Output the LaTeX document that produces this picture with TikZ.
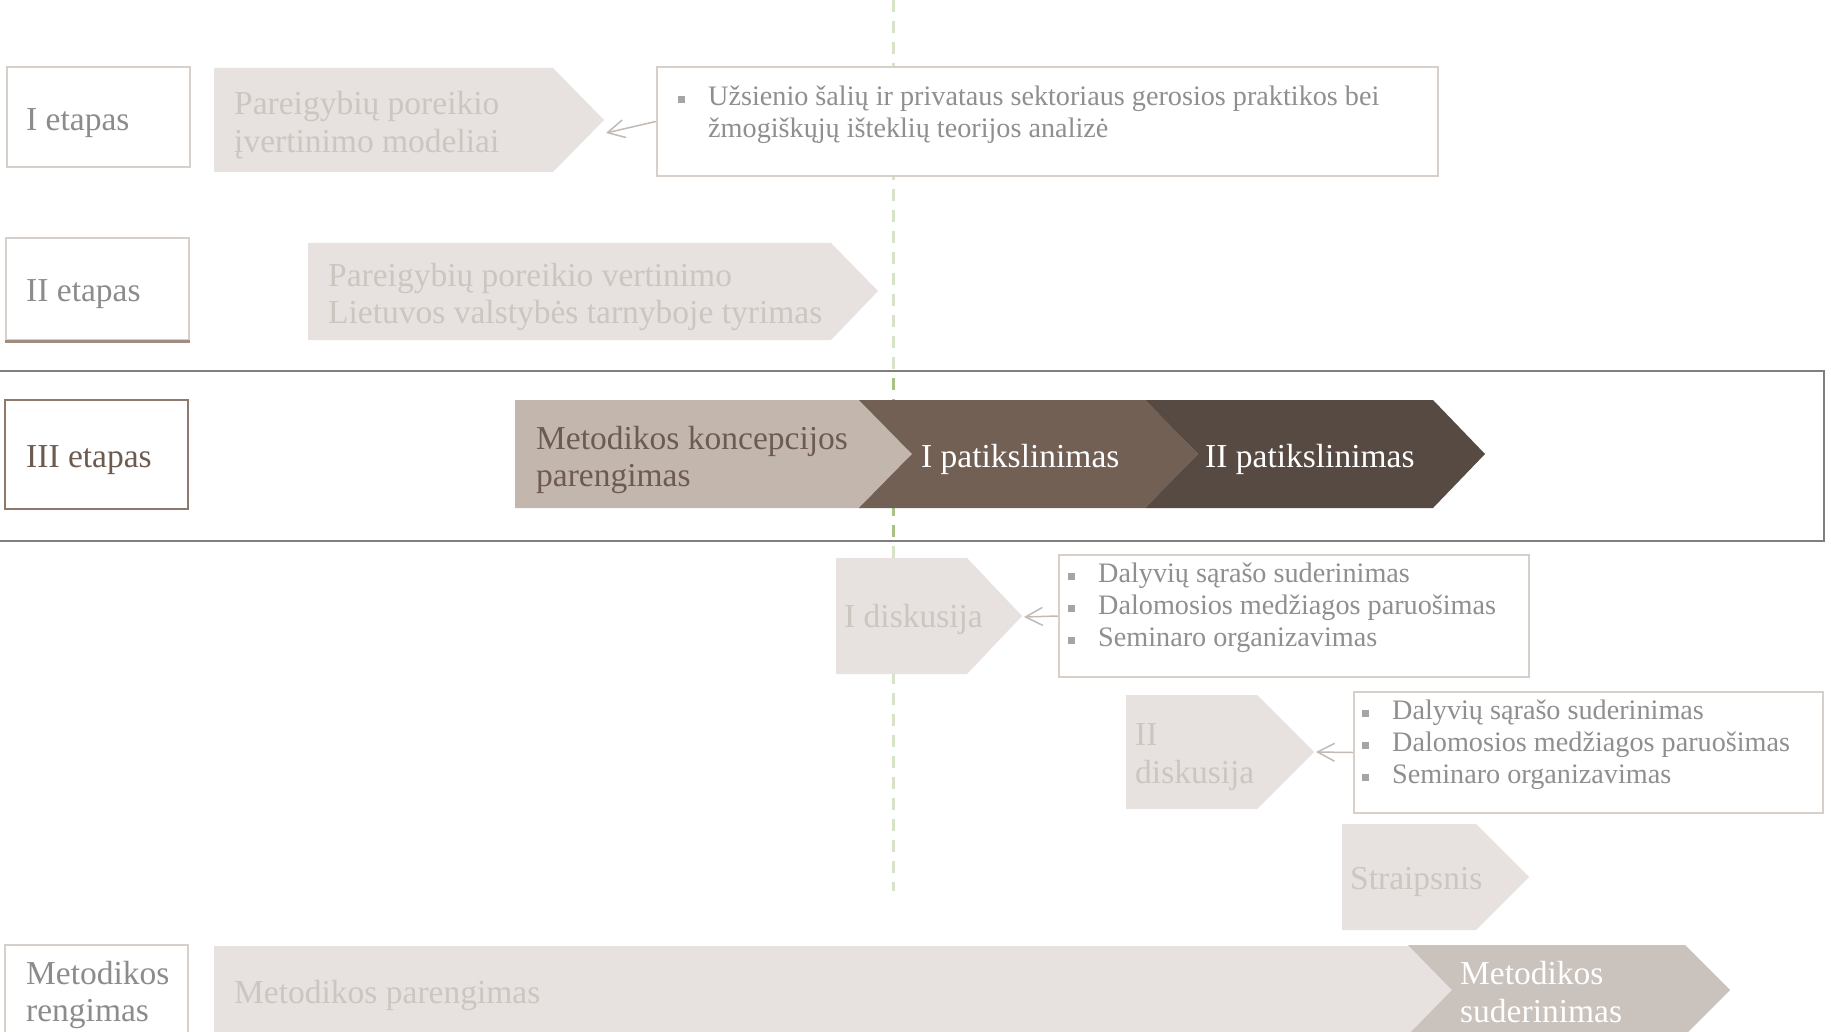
\documentclass[tikz,border=0pt]{standalone}
\usepackage{fontspec}
\setmainfont{Liberation Serif}
\usetikzlibrary{arrows.meta}

\definecolor{boxline}{HTML}{D7CFCA}
\definecolor{headtext}{HTML}{8C8C8C}
\definecolor{fadefill}{HTML}{E7E2DF}
\definecolor{fadetext}{HTML}{CDC5C0}
\definecolor{notetext}{HTML}{8F8F8F}
\definecolor{bulletc}{HTML}{A5A5A5}
\definecolor{linkc}{HTML}{C3BAB4}
\definecolor{bandline}{HTML}{7F7F7F}
\definecolor{guidelight}{HTML}{D7E3C6}
\definecolor{guidedark}{HTML}{A9C283}
\definecolor{chone}{HTML}{C3B6AD}
\definecolor{chonetext}{HTML}{6D5B51}
\definecolor{chtwo}{HTML}{726055}
\definecolor{chthree}{HTML}{574A42}
\definecolor{stageline}{HTML}{8F796C}
\definecolor{stagetext}{HTML}{6E5B50}
\definecolor{agreefill}{HTML}{C9C2BD}
\definecolor{edgebrown}{HTML}{A08C80}

% bullet item with a small grey square
\newcommand{\bitem}[1]{\makebox[30pt][l]{\raisebox{3pt}{\textcolor{bulletc}{\rule{7pt}{7pt}}}}#1}
\newcommand{\bcont}[1]{\makebox[30pt][l]{}#1}

\begin{document}
\begin{tikzpicture}[x=1pt,y=-1pt,
  headbox/.style={draw=boxline, line width=2.5pt, fill=white, minimum width=183pt, inner sep=0pt},
  callout/.style={draw=boxline, line width=2.5pt, fill=white},
  notes/.style={anchor=west, inner sep=0pt, align=left, text=notetext,
    font=\fontsize{28.2}{32}\selectfont},
  chtxt/.style={anchor=west, inner sep=0pt, align=left,
    font=\fontsize{33.5}{37.5}\selectfont},
  fadetxt/.style={chtxt, text=fadetext},
  headtxt/.style={chtxt, text=headtext},
  link/.style={draw=linkc, line width=1.5pt, -{Straight Barb[length=17pt,width=18pt]}},
  guide/.style={draw=guidelight, line width=3pt, dash pattern=on 12pt off 9pt},
]
\useasboundingbox (0,0) rectangle (1831,1032);
\fill[white] (0,0) rectangle (1831,1032);

% vertical time marker
\draw[guide] (893,0) -- (893,891);
\begin{scope}
  \clip (0,371) rectangle (1831,541);
  \draw[guide, draw=guidedark] (893,0) -- (893,891);
\end{scope}

% highlighted band of the third stage
\draw[draw=bandline, line width=2.5pt] (-5,371) rectangle (1824,541);

% ---------- stage I ----------
\node[headbox, minimum height=100pt] (h1) at (98.5,117) {};
\node[headtxt] (h1t) at (26,123) {I etapas};
\fill[fadefill] (214,68) -- (553,68) -- (604,120) -- (553,172) -- (214,172) -- cycle;
\coordinate (t1) at (606,133);
\node[fadetxt] (a1) at (234,125) {Pareigybių poreikio\\įvertinimo modeliai};
\node[callout, minimum width=781pt, minimum height=109pt] (c1) at (1047.5,121.5) {};
\node[notes] (c1t) at (678,115)
  {\bitem{Užsienio šalių ir privataus sektoriaus gerosios praktikos bei}\\
   \bcont{žmogiškųjų išteklių teorijos analizė}};
\draw[link] (c1.west) -- (t1);

% ---------- stage II ----------
\node[headbox, minimum height=102pt] (h2) at (97.5,289) {};
\draw[edgebrown, line width=2.5pt] (h2.south west) -- (h2.south east);
\node[headtxt] (h2t) at (26,294) {II etapas};
\fill[fadefill] (308,243) -- (831,243) -- (878,291) -- (831,340) -- (308,340) -- cycle;
\node[fadetxt] (a2) at (328,297) {Pareigybių poreikio vertinimo\\Lietuvos valstybės tarnyboje tyrimas};

% ---------- stage III ----------
\node[headbox, draw=stageline, minimum height=109pt] (h3) at (96.5,454.5) {};
\node[headtxt, text=stagetext] (h3t) at (26,460) {III etapas};
\fill[chone] (515,400) -- (861,400) -- (912,454) -- (861,508) -- (515,508) -- cycle;
\fill[chtwo] (859,400) -- (1145,400) -- (1198,454) -- (1145,508) -- (859,508) -- (912,454) -- cycle;
\fill[chthree] (1145,400) -- (1433,400) -- (1485,454) -- (1433,508) -- (1145,508) -- (1198,454) -- cycle;
\node[chtxt, text=chonetext] (s1) at (536,460) {Metodikos koncepcijos\\parengimas};
\node[chtxt, text=white] (s2) at (921,459) {I patikslinimas};
\node[chtxt, text=white] (s3) at (1205,459) {II patikslinimas};

% ---------- first discussion ----------
\fill[fadefill] (836,558) -- (967,558) -- (1022,616) -- (967,674) -- (836,674) -- cycle;
\coordinate (t2) at (1024,617);
\node[fadetxt] (d1) at (844,619) {I diskusija};
\node[callout, minimum width=470pt, minimum height=122pt] (c2) at (1294,616) {};
\node[notes] (c2t) at (1068,608)
  {\bitem{Dalyvių sąrašo suderinimas}\\
   \bitem{Dalomosios medžiagos paruošimas}\\
   \bitem{Seminaro organizavimas}};
\draw[link] (c2.west) -- (t2);

% ---------- second discussion ----------
\fill[fadefill] (1126,695) -- (1257,695) -- (1314,752) -- (1257,809) -- (1126,809) -- cycle;
\coordinate (t3) at (1316,752);
\node[fadetxt] (d2) at (1135,757) {II\\diskusija};
\node[callout, minimum width=469pt, minimum height=121pt] (c3) at (1588.5,752.5) {};
\node[notes] (c3t) at (1362,745)
  {\bitem{Dalyvių sąrašo suderinimas}\\
   \bitem{Dalomosios medžiagos paruošimas}\\
   \bitem{Seminaro organizavimas}};
\draw[link] (c3.west) -- (t3);

% ---------- article ----------
\fill[fadefill] (1342,824) -- (1476,824) -- (1529,877) -- (1476,930) -- (1342,930) -- cycle;
\node[fadetxt] (ar) at (1350,882) {Straipsnis};

% ---------- preparation of the methodology ----------
\node[headbox, minimum height=94pt] (h4) at (96.5,992) {};
\node[headtxt] (h4t) at (26,995) {Metodikos\\rengimas};
\fill[fadefill] (214,946) rectangle (1460,1040);
\fill[agreefill] (1408,945) -- (1685,945) -- (1730,990) -- (1685,1035) -- (1408,1035) -- (1452,990) -- cycle;
\node[fadetxt] (m1) at (234,995) {Metodikos parengimas};
\node[chtxt, text=white] (m2) at (1460,992) {Metodikos\\suderinimas};
\end{tikzpicture}
\end{document}
